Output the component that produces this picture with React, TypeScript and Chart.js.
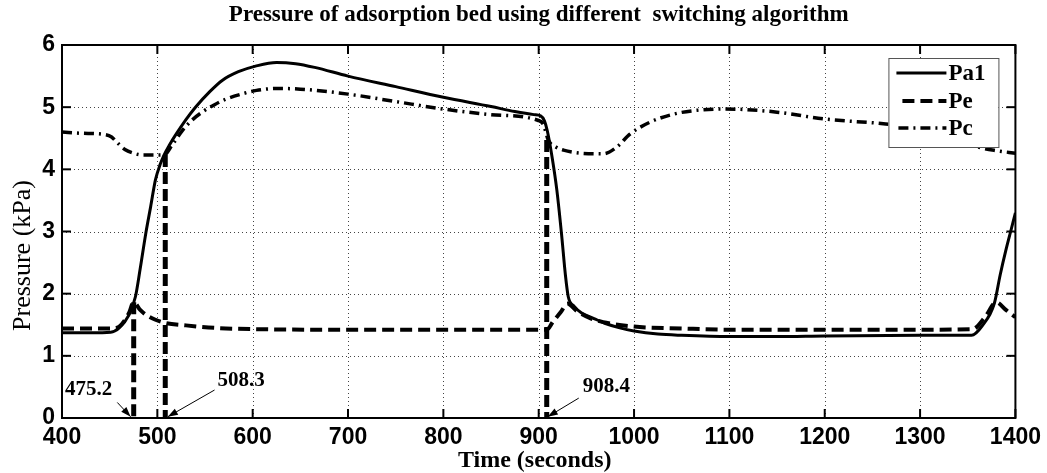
import React, { useEffect, useRef } from 'react';
import { Chart, registerables } from 'chart.js';
Chart.register(...registerables);

// ---- data ----
const pa1Time = [400, 430, 451, 460, 470, 477, 482, 488, 493, 498, 503, 507, 513, 519, 530, 540, 555, 568, 585, 603, 625, 645, 665, 700, 750, 800, 850, 875, 895, 902, 906, 909, 914, 919, 924, 928, 931, 937, 945, 958, 970, 985, 1000, 1025, 1050, 1100, 1150, 1200, 1300, 1354, 1365, 1378, 1384, 1390, 1395, 1400];
const pa1Values = [1.37, 1.37, 1.38, 1.45, 1.65, 1.95, 2.4, 2.98, 3.4, 3.83, 4.08, 4.23, 4.4, 4.55, 4.8, 5.0, 5.25, 5.43, 5.57, 5.66, 5.72, 5.7, 5.64, 5.5, 5.33, 5.16, 5.01, 4.93, 4.88, 4.86, 4.78, 4.62, 4.2, 3.67, 2.95, 2.3, 1.95, 1.8, 1.69, 1.6, 1.52, 1.45, 1.4, 1.35, 1.33, 1.31, 1.31, 1.32, 1.33, 1.33, 1.48, 1.85, 2.3, 2.7, 3.0, 3.3];

const peTime = [400, 451, 460, 470, 475.2, 482, 489, 498, 508, 530, 560, 600, 700, 800, 900, 908.4, 915, 923, 930, 940, 955, 975, 1000, 1050, 1100, 1200, 1300, 1355, 1368, 1380, 1390, 1400];
const peValues = [1.44, 1.44, 1.47, 1.68, 1.86, 1.74, 1.65, 1.58, 1.53, 1.49, 1.45, 1.43, 1.42, 1.42, 1.42, 1.42, 1.55, 1.7, 1.84, 1.72, 1.6, 1.52, 1.47, 1.44, 1.42, 1.42, 1.42, 1.43, 1.62, 1.86, 1.74, 1.62];

const pcTime = [400, 420, 445, 452, 458, 466, 475, 485, 500, 507, 515, 526, 537, 547, 560, 572, 588, 604, 625, 650, 700, 750, 800, 850, 899, 905, 910, 918, 926, 944, 968, 982, 996, 1017, 1042, 1066, 1094, 1118, 1150, 1200, 1264, 1300, 1330, 1361, 1380, 1400];
const pcValues = [4.6, 4.58, 4.56, 4.52, 4.43, 4.32, 4.26, 4.23, 4.23, 4.23, 4.38, 4.62, 4.8, 4.92, 5.04, 5.13, 5.21, 5.27, 5.3, 5.29, 5.21, 5.09, 4.97, 4.88, 4.79, 4.72, 4.47, 4.36, 4.31, 4.26, 4.25, 4.36, 4.57, 4.76, 4.89, 4.95, 4.97, 4.96, 4.92, 4.81, 4.73, 4.66, 4.55, 4.36, 4.3, 4.26];

const switchTimes = [475.2, 508.3, 908.4];
const switchTops = [1.86, 4.23, 4.47];
const switchLabels = ['475.2', '508.3', '908.4'];

const xTicks = [400, 500, 600, 700, 800, 900, 1000, 1100, 1200, 1300, 1400];
const yTicks = [0, 1, 2, 3, 4, 5, 6];

const seriesNames = ['Pa1', 'Pe', 'Pc'];
const titleText = 'Pressure of adsorption bed using different  switching algorithm';
const xTitle = 'Time (seconds)';
const yTitle = 'Pressure (kPa)';

// ---- styles ----
const SERIF = '"Liberation Serif", "DejaVu Serif", serif';
const SANS = '"Liberation Sans", Arial, sans-serif';
const dashPe = [12, 6];
const dashPc = [10, 5, 2, 5];
const dashSwitch = [12, 5];

const toPoints = (xs: number[], ys: number[]) => xs.map((x, i) => ({ x, y: ys[i] }));

// label placement (data units) for switching-time annotations
const annot = [
  { lx: 428, ly: 0.45, tx: 458, ty: 0.25, hx: 472, hy: 0.02 },
  { lx: 588, ly: 0.61, tx: 560, ty: 0.45, hx: 511, hy: 0.02 },
  { lx: 971, ly: 0.51, tx: 942, ty: 0.32, hx: 909.5, hy: 0.02 },
];

const framePlugin = {
  id: 'matlabFrame',
  beforeDatasetsDraw(chart: any) {
    const { ctx, chartArea: a, scales } = chart;
    const x = scales.x, y = scales.y;
    ctx.save();
    ctx.strokeStyle = '#444';
    ctx.lineWidth = 1;
    ctx.setLineDash([1, 3]);
    for (const t of xTicks) {
      if (t === xTicks[0] || t === xTicks[xTicks.length - 1]) continue;
      const px = Math.round(x.getPixelForValue(t)) + 0.5;
      ctx.beginPath(); ctx.moveTo(px, a.top); ctx.lineTo(px, a.bottom); ctx.stroke();
    }
    for (const v of yTicks) {
      if (v === yTicks[0] || v === yTicks[yTicks.length - 1]) continue;
      const py = Math.round(y.getPixelForValue(v)) + 0.5;
      ctx.beginPath(); ctx.moveTo(a.left, py); ctx.lineTo(a.right, py); ctx.stroke();
    }
    ctx.restore();
  },
  afterDatasetsDraw(chart: any) {
    const { ctx, chartArea: a, scales } = chart;
    const x = scales.x, y = scales.y;
    ctx.save();
    // frame
    ctx.setLineDash([]);
    ctx.strokeStyle = '#000';
    ctx.lineWidth = 2;
    ctx.strokeRect(a.left, a.top, a.right - a.left, a.bottom - a.top);
    // inward ticks
    const tl = 9;
    ctx.lineWidth = 2;
    for (const t of xTicks) {
      const px = x.getPixelForValue(t);
      ctx.beginPath(); ctx.moveTo(px, a.bottom); ctx.lineTo(px, a.bottom - tl); ctx.stroke();
      ctx.beginPath(); ctx.moveTo(px, a.top); ctx.lineTo(px, a.top + tl); ctx.stroke();
    }
    for (const v of yTicks) {
      const py = y.getPixelForValue(v);
      ctx.beginPath(); ctx.moveTo(a.left, py); ctx.lineTo(a.left + tl, py); ctx.stroke();
      ctx.beginPath(); ctx.moveTo(a.right, py); ctx.lineTo(a.right - tl, py); ctx.stroke();
    }
    // annotations
    ctx.fillStyle = '#000';
    ctx.font = 'bold 21px ' + SERIF;
    ctx.textAlign = 'center';
    ctx.textBaseline = 'middle';
    annot.forEach((an, i) => {
      ctx.fillText(switchLabels[i], x.getPixelForValue(an.lx), y.getPixelForValue(an.ly));
      const x0 = x.getPixelForValue(an.tx), y0 = y.getPixelForValue(an.ty);
      const x1 = x.getPixelForValue(an.hx), y1 = y.getPixelForValue(an.hy);
      ctx.lineWidth = 1;
      ctx.beginPath(); ctx.moveTo(x0, y0); ctx.lineTo(x1, y1); ctx.stroke();
      const ang = Math.atan2(y1 - y0, x1 - x0);
      const hl = 10, hw = 3.5;
      const bx = x1 - hl * Math.cos(ang), by = y1 - hl * Math.sin(ang);
      ctx.beginPath();
      ctx.moveTo(x1, y1);
      ctx.lineTo(bx + hw * Math.sin(ang), by - hw * Math.cos(ang));
      ctx.lineTo(bx - hw * Math.sin(ang), by + hw * Math.cos(ang));
      ctx.closePath(); ctx.fill();
    });
    // legend
    const lx0 = a.right - 127, lx1 = a.right - 17, ly0 = a.top + 13, ly1 = a.top + 102;
    ctx.fillStyle = '#fff';
    ctx.fillRect(lx0, ly0, lx1 - lx0, ly1 - ly0);
    ctx.strokeStyle = '#555';
    ctx.lineWidth = 1;
    ctx.strokeRect(lx0 + 0.5, ly0 + 0.5, lx1 - lx0, ly1 - ly0);
    const rows = [ly0 + 15, ly0 + 43, ly0 + 70];
    const styles = [
      { dash: [] as number[], w: 3, sx: lx0 + 8 },
      { dash: dashPe, w: 4, sx: lx0 + 14 },
      { dash: dashPc, w: 3.5, sx: lx0 + 10 },
    ];
    ctx.strokeStyle = '#000';
    styles.forEach((s, i) => {
      ctx.setLineDash(s.dash);
      ctx.lineWidth = s.w;
      ctx.beginPath(); ctx.moveTo(s.sx, rows[i]); ctx.lineTo(lx0 + 58, rows[i]); ctx.stroke();
    });
    ctx.setLineDash([]);
    ctx.fillStyle = '#000';
    ctx.font = 'bold 23px ' + SERIF;
    ctx.textAlign = 'left';
    ctx.textBaseline = 'middle';
    seriesNames.forEach((n, i) => ctx.fillText(n, lx0 + 60, rows[i] + 1));
    // titles
    const cx = (a.left + a.right) / 2;
    ctx.font = 'bold 23px ' + SERIF;
    ctx.textAlign = 'center';
    ctx.fillText(titleText, cx, 15);
    ctx.font = 'bold 24px ' + SERIF;
    ctx.fillText(xTitle, cx - 4, 461);
    ctx.save();
    ctx.translate(23, (a.top + a.bottom) / 2 + 24);
    ctx.rotate(-Math.PI / 2);
    ctx.font = '26px ' + SERIF;
    ctx.fillText(yTitle, 0, 0);
    ctx.restore();
    ctx.restore();
  },
};

export default function App() {
  const ref = useRef<HTMLCanvasElement>(null);
  useEffect(() => {
    document.body.style.margin = '0';
    const base = { pointRadius: 0, borderColor: '#000', backgroundColor: '#000', fill: false };
    const datasets: any[] = [
      { ...base, label: seriesNames[0], data: toPoints(pa1Time, pa1Values), borderWidth: 3, cubicInterpolationMode: 'monotone' },
      { ...base, label: seriesNames[1], data: toPoints(peTime, peValues), borderWidth: 4, borderDash: dashPe, cubicInterpolationMode: 'monotone' },
      { ...base, label: seriesNames[2], data: toPoints(pcTime, pcValues), borderWidth: 3.5, borderDash: dashPc, cubicInterpolationMode: 'monotone' },
    ];
    switchTimes.forEach((t, i) => {
      datasets.push({ ...base, label: 'switch' + i, data: [{ x: t, y: switchTops[i] }, { x: t, y: 0 }], borderWidth: 5, borderDash: dashSwitch, tension: 0 });
    });
    const chart = new Chart(ref.current as HTMLCanvasElement, {
      type: 'line',
      data: { datasets },
      options: {
        animation: false,
        responsive: false,
        devicePixelRatio: 1,
        layout: { padding: { top: 45, right: 30, left: 0, bottom: 0 } },
        plugins: { legend: { display: false }, tooltip: { enabled: false }, title: { display: false } },
        scales: {
          x: {
            type: 'linear', min: 400, max: 1400,
            afterFit: (s: any) => { s.height = 55; },
            afterBuildTicks: (s: any) => { s.ticks = xTicks.map((v) => ({ value: v })); },
            ticks: { color: '#000', font: { family: SANS, size: 23, weight: 'bold' }, padding: 6, maxRotation: 0, autoSkip: false, callback: (v: any) => String(v) },
            grid: { display: false, drawTicks: false },
            border: { display: false },
          },
          y: {
            type: 'linear', min: 0, max: 6,
            afterFit: (s: any) => { s.width = 62; },
            afterBuildTicks: (s: any) => { s.ticks = yTicks.map((v) => ({ value: v })); },
            ticks: { color: '#000', font: { family: SANS, size: 23, weight: 'bold' }, padding: 7, callback: (v: any) => String(v) },
            grid: { display: false, drawTicks: false },
            border: { display: false },
          },
        },
      },
      plugins: [framePlugin],
    } as any);
    return () => chart.destroy();
  }, []);
  return (
    <div style={{ width: 1047, height: 473, background: '#fff' }}>
      <canvas ref={ref} width={1047} height={473} />
    </div>
  );
}
